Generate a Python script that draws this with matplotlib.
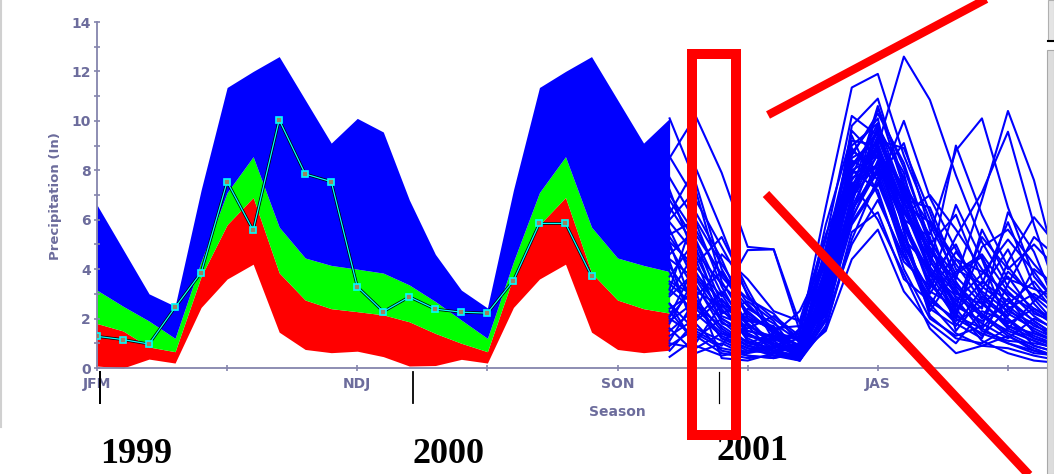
import numpy as np
import matplotlib
matplotlib.use("Agg")
import matplotlib.pyplot as plt
from matplotlib.patches import Rectangle
from matplotlib.lines import Line2D

W, H = 1054, 474

# seasonal climatology band (23 seasons, JFM 1999 .. NDJ 2000/01)
band_min = [0.08, 0.0, 0.36, 0.2, 2.45, 3.6, 4.2, 1.45, 0.75, 0.62, 0.68, 0.46,
            0.08, 0.1, 0.35, 0.2, 2.45, 3.6, 4.2, 1.45, 0.75, 0.62, 0.72]
band_red = [1.8, 1.5, 0.85, 0.66, 3.7, 5.8, 6.9, 3.85, 2.75, 2.4, 2.28, 2.15,
            1.87, 1.4, 1.0, 0.66, 3.7, 5.8, 6.9, 3.85, 2.75, 2.4, 2.22]
band_green = [3.15, 2.5, 1.9, 1.2, 4.3, 7.1, 8.55, 5.7, 4.45, 4.15, 4.0, 3.84,
              3.36, 2.69, 1.94, 1.2, 4.3, 7.1, 8.55, 5.7, 4.45, 4.15, 3.9]
band_max = [6.6, 4.8, 3.0, 2.5, 7.2, 11.35, 12.0, 12.6, 10.85, 9.1, 10.1, 9.55,
            6.8, 4.6, 3.15, 2.43, 7.2, 11.35, 12.0, 12.6, 10.85, 9.1, 10.1]

# observed seasonal precipitation
observed = [1.28, 1.15, 0.97, 2.45, 3.86, 7.54, 5.57, 10.04, 7.85, 7.54, 3.29,
            2.28, 2.88, 2.38, 2.26, 2.22, 3.54, 5.85, 5.85, 3.72]

# ensemble traces, seasons 22..37
ensemble = [
    [10.1, 7.5, 4.0, 2.2, 1.5, 0.6, 3.5, 8.2, 9.6, 6.8, 4.1, 2.7, 3.8, 5.2, 3.9, 2.4],
    [8.5, 10.2, 7.9, 4.9, 4.8, 1.8, 4.2, 7.4, 8.8, 5.7, 3.5, 2.1, 1.6, 2.8, 1.9, 1.2],
    [6.8, 5.1, 2.6, 1.1, 0.7, 0.4, 2.9, 6.6, 10.5, 8.1, 5.2, 3.3, 2.2, 1.4, 0.9, 0.6],
    [5.6, 3.4, 1.6, 0.9, 1.2, 1.4, 6.5, 11.35, 11.9, 8.6, 6.0, 4.4, 3.1, 2.3, 1.8, 1.0],
    [2.1, 4.2, 5.3, 3.2, 1.3, 0.9, 4.9, 9.2, 9.0, 12.6, 10.85, 7.8, 5.1, 3.3, 2.4, 1.9],
    [4.1, 2.6, 1.2, 0.8, 0.5, 0.3, 2.2, 5.8, 7.4, 10.0, 6.9, 4.8, 3.0, 2.0, 1.2, 0.8],
    [3.2, 6.3, 4.4, 2.0, 0.9, 0.6, 3.0, 6.9, 8.3, 5.2, 4.1, 9.0, 6.2, 4.1, 2.8, 1.6],
    [1.3, 2.0, 3.1, 1.7, 0.6, 0.5, 2.6, 7.8, 9.9, 7.0, 5.4, 8.8, 10.1, 6.5, 3.7, 2.5],
    [7.7, 5.9, 3.3, 1.4, 0.8, 0.3, 1.9, 6.1, 8.0, 6.4, 4.7, 3.6, 6.8, 10.4, 7.6, 3.5],
    [2.6, 1.5, 0.9, 2.4, 1.8, 1.1, 3.8, 8.5, 9.1, 6.1, 3.2, 5.3, 7.1, 9.56, 5.8, 2.7],
    [0.45, 1.2, 2.0, 1.3, 1.0, 0.7, 2.0, 5.0, 6.8, 4.5, 2.9, 1.8, 1.2, 3.4, 5.3, 4.4],
    [5.1, 4.1, 2.9, 4.77, 4.8, 1.5, 3.4, 8.9, 7.6, 5.3, 2.6, 1.4, 0.9, 0.8, 0.5, 0.3],
    [3.9, 1.8, 0.7, 0.5, 0.4, 0.6, 1.5, 4.4, 5.6, 3.1, 1.8, 1.0, 2.3, 1.9, 1.3, 0.9],
    [2.07, 3.3, 1.9, 1.0, 1.4, 2.3, 4.5, 7.1, 10.6, 7.3, 4.6, 2.5, 1.9, 2.6, 3.5, 2.2],
    [6.25, 8.1, 5.6, 2.9, 2.0, 1.2, 3.1, 6.4, 7.9, 4.8, 2.3, 3.9, 4.6, 3.1, 2.1, 1.4],
    [1.0, 0.8, 1.4, 0.9, 0.6, 0.9, 4.1, 9.6, 8.5, 5.9, 3.8, 2.2, 4.9, 5.6, 4.2, 3.0],
    [4.6, 5.6, 3.7, 2.5, 1.6, 0.8, 2.4, 7.0, 9.3, 6.6, 5.9, 4.2, 2.7, 1.6, 1.1, 0.7],
    [3.16, 2.3, 4.6, 3.6, 2.3, 1.9, 5.4, 8.0, 7.2, 4.0, 2.0, 1.3, 1.7, 4.3, 6.1, 4.8],
    [2.6, 0.9, 0.5, 0.7, 0.9, 0.5, 2.8, 6.9, 9.8, 7.7, 5.0, 6.2, 3.6, 2.2, 1.6, 1.1],
    [8.55, 6.8, 4.9, 3.0, 1.1, 0.4, 1.6, 5.5, 6.3, 3.6, 2.7, 2.0, 1.4, 1.0, 0.7, 0.5],
    [1.8, 3.7, 2.3, 1.6, 2.1, 1.3, 3.6, 9.8, 10.9, 7.5, 4.3, 3.0, 2.6, 1.8, 2.4, 1.7],
    [5.9, 4.6, 2.4, 1.2, 0.7, 0.8, 4.5, 8.3, 8.8, 6.2, 7.0, 5.6, 4.0, 2.9, 1.4, 1.0],
    [0.9, 1.6, 1.1, 0.6, 0.8, 1.0, 3.2, 7.5, 6.0, 3.8, 1.6, 0.6, 0.9, 1.3, 0.8, 0.4],
    [3.5, 2.9, 3.9, 2.1, 1.5, 0.9, 2.5, 6.2, 9.2, 8.9, 6.3, 3.5, 2.0, 3.9, 2.9, 2.0],
    [7.2, 4.4, 1.8, 1.5, 1.3, 0.7, 3.3, 7.9, 8.1, 5.0, 3.0, 4.7, 3.3, 2.5, 1.7, 1.3],
    [4.9, 3.1, 0.4, 0.3, 0.6, 1.6, 5.2, 10.2, 9.4, 6.9, 4.9, 3.4, 2.4, 6.3, 4.7, 2.1],
    [2.3, 1.0, 2.6, 1.9, 1.7, 0.3, 1.7, 5.2, 7.7, 9.1, 5.6, 2.8, 1.5, 1.1, 1.0, 0.8],
    [6.0, 7.2, 3.5, 1.8, 0.9, 1.2, 4.0, 8.7, 10.1, 5.5, 2.4, 1.7, 3.2, 4.8, 2.6, 1.5],
    [1.5, 2.4, 1.4, 1.1, 0.5, 0.6, 3.7, 7.2, 8.6, 6.3, 4.4, 2.4, 1.1, 0.6, 0.3, 0.2],
    [3.7, 5.2, 3.0, 1.3, 1.1, 1.3, 2.1, 6.7, 9.7, 7.9, 3.6, 2.0, 5.6, 3.6, 3.2, 2.8],
    [5.06, 2.2, 1.3, 0.8, 0.7, 1.0, 5.8, 9.4, 7.0, 4.3, 3.3, 6.6, 4.4, 1.7, 1.2, 0.9],
    [2.9, 3.9, 2.2, 2.7, 1.9, 0.4, 2.3, 6.0, 8.4, 6.0, 5.3, 1.5, 2.9, 2.1, 4.0, 3.2],
    [1.1, 2.8, 1.5, 0.9, 0.7, 0.5, 2.7, 7.6, 9.0, 6.5, 3.9, 2.6, 1.8, 1.2, 2.0, 1.5],
    [4.4, 3.6, 2.0, 1.4, 0.9, 0.8, 3.9, 8.1, 9.5, 7.1, 4.5, 3.1, 2.1, 1.5, 1.1, 0.7],
    [2.0, 1.3, 0.6, 0.4, 0.5, 0.4, 2.4, 6.8, 8.9, 6.7, 4.0, 2.3, 3.5, 2.7, 1.9, 1.2],
    [6.5, 4.9, 2.1, 1.7, 1.2, 0.6, 3.1, 7.7, 8.2, 5.8, 3.7, 5.0, 2.8, 2.0, 0.9, 0.6],
    [3.0, 4.7, 3.4, 2.3, 1.4, 0.9, 4.6, 9.0, 9.9, 6.0, 3.4, 2.2, 1.3, 2.4, 3.0, 2.3],
    [1.6, 0.6, 1.0, 0.5, 0.4, 0.7, 3.0, 8.4, 7.8, 4.6, 2.8, 1.9, 2.5, 3.7, 2.2, 1.8],
    [5.4, 6.0, 4.2, 2.6, 1.5, 1.1, 2.6, 6.5, 8.7, 7.4, 5.8, 3.8, 4.5, 2.4, 1.5, 1.0],
    [0.7, 1.9, 2.8, 1.5, 1.2, 0.8, 3.5, 7.3, 9.0, 5.6, 2.1, 1.2, 1.0, 1.6, 2.7, 3.6],
    [3.4, 2.5, 1.7, 1.0, 0.8, 1.5, 4.8, 8.8, 8.0, 6.8, 6.5, 4.0, 3.4, 5.9, 3.3, 2.0],
    [7.0, 5.4, 3.8, 2.8, 2.2, 1.0, 2.9, 7.0, 9.4, 7.2, 3.9, 2.9, 2.1, 1.3, 0.7, 0.4],
    [2.4, 3.1, 2.5, 1.8, 1.0, 0.5, 3.4, 8.6, 10.3, 8.3, 5.1, 3.7, 2.6, 1.7, 1.4, 1.1],
    [4.3, 1.4, 0.8, 0.6, 1.3, 1.2, 2.3, 5.9, 7.5, 4.9, 3.1, 2.5, 5.3, 4.0, 5.0, 3.9],
    [1.9, 2.7, 1.2, 0.7, 0.6, 0.3, 2.0, 6.4, 8.1, 6.4, 4.8, 3.2, 1.6, 1.0, 0.6, 0.5],
    [5.3, 3.8, 2.7, 2.0, 1.6, 1.7, 4.3, 8.0, 8.6, 5.1, 2.5, 4.4, 3.9, 3.0, 2.3, 1.6],
]

season_labels = {0: "JFM", 10: "NDJ", 20: "SON", 30: "JAS"}
years = ["1999", "2000", "2001"]

txt_col = "#6c6c9c"
axis_col = "#8585ad"


def fx(px):
    return px / W


def fy(py):
    return 1 - py / H


fig = plt.figure(figsize=(W / 100, H / 100), dpi=100)
ax = fig.add_axes([fx(97), fy(368), fx(1047) - fx(97), fy(22) - fy(368)])

x_band = np.arange(len(band_max))
ax.fill_between(x_band, band_min, band_red, color="#ff0000", lw=0)
ax.fill_between(x_band, band_red, band_green, color="#00ff00", lw=0)
ax.fill_between(x_band, band_green, band_max, color="#0000ff", lw=0)

x_ens = np.arange(22, 22 + len(ensemble[0]))
for trace in ensemble:
    ax.plot(x_ens, trace, color="#0000ff", lw=1.5, zorder=3)

x_obs = np.arange(len(observed))
ax.plot(x_obs, observed, color="black", lw=2.0, zorder=4)
ax.plot(x_obs, observed, color="#00ffff", lw=0.9, marker="s", ms=5,
        mfc="#a08060", mec="#00ffff", mew=1.2, zorder=5)

ax.set_xlim(0, 36.5)
ax.set_ylim(0, 14)
for s in ["top", "right"]:
    ax.spines[s].set_visible(False)
for s in ["left", "bottom"]:
    ax.spines[s].set_color(axis_col)
    ax.spines[s].set_linewidth(1.3)

ax.set_xticks(np.arange(0, 36, 5))
ax.set_xticklabels([season_labels.get(t, "") for t in range(0, 36, 5)])
ax.set_yticks(np.arange(0, 15, 2))
ax.set_yticks(np.arange(1, 14, 2), minor=True)
ax.tick_params(axis="both", which="both", direction="inout", length=5,
               width=1.2, color=axis_col, labelcolor=txt_col)
ax.tick_params(axis="x", pad=4)
ax.tick_params(axis="y", pad=2)
for lab in ax.get_xticklabels() + ax.get_yticklabels():
    lab.set_fontweight("bold")
    lab.set_fontsize(10)

fig.text(fx(55), fy(196), "Precipitation (In)", rotation=90, ha="center",
         va="center", color=txt_col, fontsize=9.5, fontweight="bold")
fig.text(fx(617), fy(412), "Season", ha="center", va="center",
         color=txt_col, fontsize=10, fontweight="bold")

# year labels and markers
year_x = [100, 412, 717]
year_base = [463, 463, 460]
for yr, xp, yb in zip(years, year_x, year_base):
    fig.text(fx(xp), fy(yb), yr, ha="left", va="baseline",
             family="Liberation Serif", fontweight="bold", fontsize=26)
for xp, w in [(100, 2.0), (413, 1.8), (719, 1.2)]:
    fig.add_artist(Line2D([fx(xp), fx(xp)], [fy(372), fy(403)],
                          color="black", lw=w * 0.72, transform=fig.transFigure))

# red highlight box and zoom lines
fig.add_artist(Rectangle((fx(692), fy(435)), fx(736) - fx(692), fy(54) - fy(435),
                         fill=False, ec="#ff0000", lw=7.2,
                         transform=fig.transFigure, zorder=6))
fig.add_artist(Line2D([fx(768), fx(990)], [fy(115), fy(-3)], color="#ff0000",
                      lw=6.0, solid_capstyle="butt", transform=fig.transFigure,
                      zorder=6))
fig.add_artist(Line2D([fx(766), fx(1030)], [fy(194), fy(476)], color="#ff0000",
                      lw=6.4, solid_capstyle="butt", transform=fig.transFigure,
                      zorder=6))

# window chrome remnants
fig.add_artist(Rectangle((fx(1047), fy(474)), fx(7), fy(50) - fy(474),
                         fc="#dcdcdc", ec="#a8a8a8", lw=0.8,
                         transform=fig.transFigure))
fig.add_artist(Rectangle((fx(1048), fy(41)), fx(6), fy(0) - fy(41),
                         fc="#e4e4e4", ec="#b0b0b0", lw=0.8,
                         transform=fig.transFigure))
fig.add_artist(Line2D([fx(1048), fx(1054)], [fy(41), fy(41)], color="black",
                      lw=1.5, transform=fig.transFigure))
fig.add_artist(Line2D([fx(1), fx(1)], [fy(0), fy(427)], color="#d0d0d0",
                      lw=1.5, transform=fig.transFigure))

fig.savefig("out.png", dpi=100)
